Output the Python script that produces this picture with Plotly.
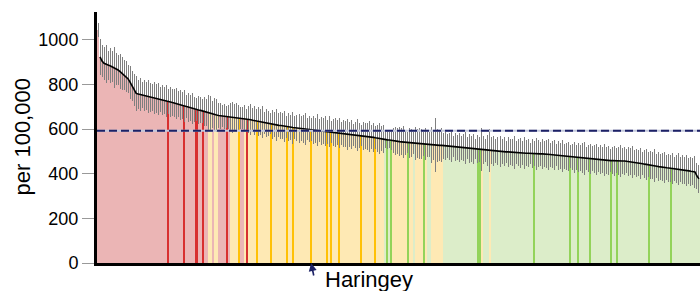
import plotly.graph_objects as go

# Rates per 100,000 for each area, sorted descending
values = [
    1045, 924, 905, 895, 890, 887, 884, 880, 876, 870,
    865, 858, 850, 842, 835, 825, 810, 792, 775, 760,
    757, 755, 752, 750, 748, 746, 743, 741, 739, 737,
    735, 733, 730, 728, 726, 724, 722, 719, 717, 714,
    712, 709, 706, 704, 701, 698, 695, 693, 690, 688,
    686, 684, 681, 678, 675, 672, 669, 667, 665, 663,
    661, 660, 658, 657, 655, 654, 653, 652, 652, 651,
    650, 650, 649, 648, 646, 644, 642, 640, 638, 637,
    635, 633, 631, 629, 628, 626, 624, 622, 621, 619,
    617, 616, 614, 612, 611, 610, 608, 607, 606, 605,
    604, 603, 602, 601, 600, 599, 598, 597, 596, 595,
    594, 593, 592, 591, 589, 588, 587, 586, 585, 584,
    582, 581, 580, 578, 577, 576, 576, 575, 574, 573,
    572, 571, 570, 568, 567, 566, 564, 563, 561, 559,
    558, 557, 555, 554, 552, 551, 549, 548, 546, 545,
    544, 543, 542, 541, 540, 539, 538, 537, 536, 535,
    534, 533, 533, 532, 531, 531, 530, 529, 529, 528,
    527, 527, 526, 525, 524, 523, 522, 521, 520, 519,
    518, 517, 516, 515, 514, 513, 512, 511, 510, 510,
    509, 508, 507, 506, 505, 504, 504, 503, 502, 501,
    500, 500, 499, 498, 498, 497, 496, 496, 495, 495,
    494, 493, 493, 492, 492, 491, 491, 490, 490, 490,
    489, 489, 489, 488, 487, 486, 485, 484, 483, 482,
    481, 480, 479, 478, 477, 476, 475, 474, 473, 472,
    471, 470, 470, 469, 468, 467, 467, 466, 465, 464,
    463, 462, 461, 460, 460, 459, 459, 458, 458, 458,
    457, 457, 457, 456, 455, 454, 452, 451, 449, 448,
    446, 445, 443, 442, 440, 439, 437, 436, 434, 432,
    430, 429, 428, 427, 426, 425, 424, 423, 422, 420,
    419, 418, 416, 415, 413, 411, 410, 408, 390, 377,
]

# 95% confidence interval half-widths
ci_half = [
    30, 80, 70, 75, 85, 65, 78, 70, 90, 72,
    68, 80, 74, 66, 70, 62, 75, 68, 72, 80,
    65, 72, 58, 70, 62, 75, 66, 60, 72, 64,
    70, 58, 66, 62, 72, 55, 68, 60, 64, 70,
    58, 66, 62, 70, 52, 64, 60, 68, 56, 50,
    62, 58, 54, 66, 60, 82, 78, 60, 75, 74,
    55, 58, 50, 56, 48, 52, 62, 70, 60, 66,
    58, 48, 50, 62, 44, 60, 70, 55, 66, 52,
    64, 58, 72, 50, 62, 56, 48, 66, 58, 70,
    54, 62, 58, 68, 50, 64, 56, 72, 52, 60,
    66, 54, 62, 70, 48, 58, 52, 64, 56, 72,
    50, 62, 58, 66, 54, 70, 48, 60, 64, 56,
    68, 52, 62, 58, 70, 54, 66, 50, 60, 72,
    56, 48, 64, 58, 62, 70, 54, 66, 52, 60,
    68, 56, 62, 38, 40, 36, 42, 55, 64, 58,
    66, 60, 70, 56, 45, 68, 62, 50, 74, 64,
    70, 66, 52, 72, 55, 58, 80, 68, 122, 74,
    70, 76, 58, 64, 52, 60, 70, 48, 62, 56,
    66, 54, 60, 72, 50, 64, 58, 68, 46, 62,
    56, 97, 64, 52, 70, 95, 60, 66, 54, 62,
    70, 56, 64, 50, 68, 58, 62, 74, 52, 60,
    66, 54, 70, 58, 62, 48, 64, 56, 72, 60,
    52, 66, 58, 62, 70, 54, 60, 68, 50, 64,
    58, 72, 56, 62, 66, 52, 60, 70, 54, 64,
    58, 66, 74, 52, 60, 68, 56, 62, 70, 54,
    64, 58, 72, 60, 66, 50, 62, 68, 56, 64,
    70, 58, 62, 54, 66, 60, 72, 56, 64, 58,
    68, 52, 62, 70, 56, 64, 60, 74, 54, 66,
    58, 62, 70, 56, 64, 60, 68, 54, 62, 72,
    56, 64, 60, 68, 58, 66, 62, 70, 60, 64,
]

# Significance vs England (R higher, Y similar, G lower), as runs in order
significance_runs = [
    ("R", 55), ("Y", 2), ("R", 1), ("Y", 2), ("R", 6), ("Y", 5), ("R", 2),
    ("Y", 1), ("R", 1), ("Y", 68), ("G", 4), ("Y", 7), ("G", 1), ("Y", 2),
    ("G", 1), ("Y", 4), ("G", 1), ("Y", 1), ("G", 2), ("Y", 6), ("G", 19),
    ("Y", 1), ("G", 3), ("Y", 1), ("G", 104),
]

# Highlighted areas (London boroughs)
highlighted = [35, 43, 49, 52, 64, 74, 70, 79, 86, 94, 97, 106, 114, 116,
               120, 131, 138, 144, 146, 154, 162, 189, 190, 217, 235, 239,
               245, 255, 258, 274, 285]

england_avg = 593
label_index = 106
label_text = "Haringey"

pale = {"R": "#ebb5b5", "Y": "#fee9b4", "G": "#dcedc9"}
strong = {"R": "#d82f2f", "Y": "#ffc107", "G": "#93d35a"}

sig = []
for c, n in significance_runs:
    sig.extend([c] * n)

n = len(values)
xs = list(range(n))
colors = [strong[sig[i]] if i in highlighted else pale[sig[i]] for i in xs]

FONT = "Liberation Sans, Arial, sans-serif"

fig = go.Figure()
fig.add_trace(go.Bar(
    x=xs, y=values,
    marker=dict(color=colors, line=dict(width=0)),
    error_y=dict(type="data", array=ci_half, symmetric=True,
                 color="#7f7f7f", thickness=1, width=0),
    hoverinfo="skip",
))
fig.add_trace(go.Scatter(
    x=xs[1:], y=values[1:], mode="lines",
    line=dict(color="black", width=1.6),
    hoverinfo="skip",
))

fig.add_shape(type="line", xref="paper", x0=0, x1=1, yref="y",
              y0=england_avg, y1=england_avg,
              line=dict(color="#c3c8dc", width=2), layer="above")
fig.add_shape(type="line", xref="paper", x0=0, x1=1, yref="y",
              y0=england_avg, y1=england_avg,
              line=dict(color="#1c2166", width=2, dash="8px,4px"), layer="above")

fig.add_annotation(x=label_index, y=0, xref="x", yref="y", text="",
                   showarrow=True, arrowhead=2, arrowsize=1, arrowwidth=1.6,
                   arrowcolor="#1c2166", ax=3, ay=14)
fig.add_annotation(x=label_index, xref="x", xanchor="left", xshift=12,
                   y=0, yref="paper", yanchor="middle", yshift=-16,
                   text=label_text, showarrow=False,
                   font=dict(family=FONT, size=22, color="black"))
fig.add_annotation(x=0, xref="paper", xshift=-75, xanchor="center",
                   y=0.5, yref="paper", yanchor="middle",
                   text="per 100,000", textangle=-90, showarrow=False,
                   font=dict(family=FONT, size=22, color="black"))

fig.update_layout(
    width=700, height=291,
    margin=dict(l=97, r=0, t=12, b=28),
    paper_bgcolor="white", plot_bgcolor="white",
    showlegend=False, bargap=0,
    font=dict(family=FONT, size=18, color="black"),
    xaxis=dict(range=[-0.5, n - 0.5], showticklabels=False, ticks="",
               showgrid=False, zeroline=False, showline=True,
               linecolor="black", linewidth=3, fixedrange=True),
    yaxis=dict(range=[0, 1125], tickvals=[0, 200, 400, 600, 800, 1000],
               ticks="outside", ticklen=12, tickcolor="#999999", tickwidth=1,
               tickfont=dict(family=FONT, size=18, color="black"),
               showgrid=False, zeroline=False, showline=True,
               linecolor="black", linewidth=3, fixedrange=True),
)

fig.write_html(
    "out.html",
    config={"displayModeBar": False},
    post_script="document.body.style.margin='0';document.body.style.padding='0';"
                "document.body.style.overflow='hidden';",
)
